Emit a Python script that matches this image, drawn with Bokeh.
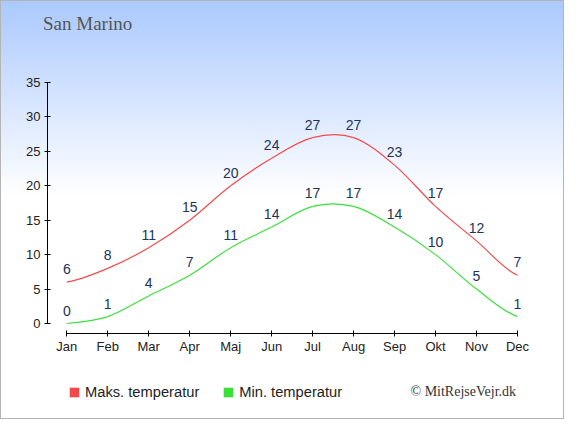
from bokeh.plotting import figure
from bokeh.layouts import column
from bokeh.models import Range1d, FixedTicker, Legend, LegendItem, Label, ColumnDataSource
from bokeh.core.properties import value
from bokeh.embed import file_html
from bokeh.resources import INLINE

# ---- data ----
months = ["Jan", "Feb", "Mar", "Apr", "Maj", "Jun", "Jul", "Aug", "Sep", "Okt", "Nov", "Dec"]
max_temp = [6, 8, 11, 15, 20, 24, 27, 27, 23, 17, 12, 7]
min_temp = [0, 1, 4, 7, 11, 14, 17, 17, 14, 10, 5, 1]
y_ticks = [0, 5, 10, 15, 20, 25, 30, 35]
title_text = "San Marino"
legend_max = "Maks. temperatur"
legend_min = "Min. temperatur"
credit_text = "\u00a9 MitRejseVejr.dk"

RED = "#f24a4a"
GREEN = "#3ae03a"
FONT = "Liberation Sans"
SERIF = "Liberation Serif"
W = 564
H_TOP, H_MAIN, H_BOT = 60, 300, 59
NAN = float("nan")


def spline_source(ys):
    xs = list(range(len(ys)))
    n = len(ys)
    m = []
    for i in range(n):
        if i == 0:
            m.append((ys[1] - ys[0]) / 2.0)
        elif i == n - 1:
            m.append((ys[n - 1] - ys[n - 2]) / 2.0)
        else:
            m.append((ys[i + 1] - ys[i - 1]) / 2.0)
    d = dict(x0=[], y0=[], x1=[], y1=[], cx0=[], cy0=[], cx1=[], cy1=[])
    for i in range(n - 1):
        d["x0"].append(xs[i]); d["y0"].append(ys[i])
        d["x1"].append(xs[i + 1]); d["y1"].append(ys[i + 1])
        d["cx0"].append(xs[i] + 1 / 3); d["cy0"].append(ys[i] + m[i] / 3)
        d["cx1"].append(xs[i + 1] - 1 / 3); d["cy1"].append(ys[i + 1] - m[i + 1] / 3)
    return ColumnDataSource(d)


def blank(h):
    f = figure(width=W, height=h, output_backend="svg", toolbar_location=None,
               x_range=Range1d(0, W), y_range=Range1d(0, h),
               x_axis_type=None, y_axis_type=None, min_border=0,
               background_fill_color=None, border_fill_color=None, outline_line_color=None)
    f.grid.visible = False
    f.frame_align = False
    return f


# ---- title strip ----
ft = blank(H_TOP)
ft.add_layout(Label(x=42.5, y=H_TOP - 23, text=title_text, text_font=SERIF,
                    text_font_size="19px", text_color="#555555",
                    text_baseline="middle", text_align="left"))

# ---- main chart ----
p = figure(width=W, height=H_MAIN, output_backend="svg", toolbar_location=None,
           x_range=Range1d(-0.471, 12.148), y_range=Range1d(-1.452, 38.19),
           min_border_left=47, min_border_right=0, min_border_top=0, min_border_bottom=27,
           background_fill_color=None, border_fill_color=None, outline_line_color=None)
p.grid.visible = False

p.bezier(x0="x0", y0="y0", x1="x1", y1="y1", cx0="cx0", cy0="cy0", cx1="cx1", cy1="cy1",
         source=spline_source(max_temp), line_color=RED, line_width=1.2)
p.bezier(x0="x0", y0="y0", x1="x1", y1="y1", cx0="cx0", cy0="cy0", cx1="cx1", cy1="cy1",
         source=spline_source(min_temp), line_color=GREEN, line_width=1.2)

idx = list(range(len(months)))
p.text(x=idx, y=max_temp, text=[str(v) for v in max_temp], text_align="center",
       text_baseline="middle", y_offset=-13, text_font=value(FONT), text_font_size="14px",
       text_color="#223355")
p.text(x=idx, y=min_temp, text=[str(v) for v in min_temp], text_align="center",
       text_baseline="middle", y_offset=-13, text_font=value(FONT), text_font_size="14px",
       text_color="#223355")

for ax in (p.xaxis[0], p.yaxis[0]):
    ax.axis_line_color = "black"
    ax.major_tick_line_color = "black"
    ax.minor_tick_line_color = None
    ax.major_tick_in = 3
    ax.major_tick_out = 3
    ax.major_label_text_font = FONT
    ax.major_label_text_font_size = "13px"
    ax.major_label_text_color = "#222222"
p.xaxis.bounds = (0, 11)
p.yaxis.bounds = (0, 35)
p.xaxis.ticker = FixedTicker(ticks=idx)
p.xaxis.major_label_overrides = {i: m for i, m in enumerate(months)}
p.xaxis.major_label_standoff = 2
p.yaxis.ticker = FixedTicker(ticks=y_ticks)
p.yaxis.major_label_standoff = 4

# ---- legend strip ----
fb = blank(H_BOT)
r_max = fb.quad(left=[NAN], right=[NAN], top=[NAN], bottom=[NAN], fill_color=RED, line_color=None)
r_min = fb.quad(left=[NAN], right=[NAN], top=[NAN], bottom=[NAN], fill_color=GREEN, line_color=None)
legend = Legend(items=[LegendItem(label=legend_max, renderers=[r_max]),
                       LegendItem(label=legend_min, renderers=[r_min])],
                orientation="horizontal", location=(68, 19), padding=0, margin=0,
                spacing=23, glyph_width=12, glyph_height=12, label_standoff=5,
                label_height=17, label_text_font=FONT, label_text_font_size="14.7px",
                label_text_color="#222222", border_line_color=None, background_fill_alpha=0)
fb.add_layout(legend, "center")
fb.add_layout(Label(x=410, y=28, text=credit_text, text_font=SERIF,
                    text_font_size="14px", text_color="#333333",
                    text_baseline="middle", text_align="left"))

layout = column(ft, p, fb, spacing=0)
layout.styles = {"background": "linear-gradient(180deg, #aac9fe 0px, #ffffff 197px)",
                 "box-shadow": "inset 0 0 0 1px #b4b4b4"}

open("out.html", "w").write(file_html(layout, INLINE))
